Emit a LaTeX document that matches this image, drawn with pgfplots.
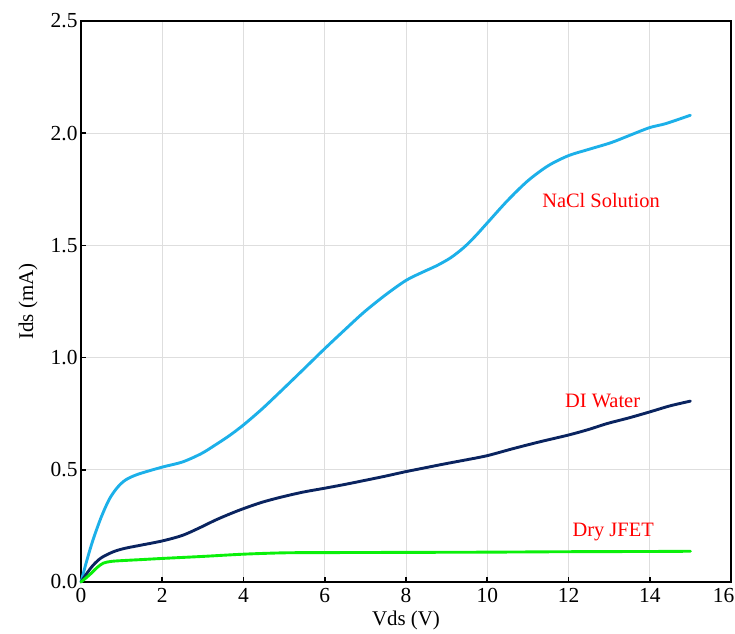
\documentclass[border=0pt]{standalone}
\usepackage{pgfplots}
\pgfplotsset{compat=1.18}
\usepackage{fontspec}
\setmainfont{Liberation Serif}
\definecolor{nacl}{RGB}{28,176,233}
\definecolor{diw}{RGB}{10,36,96}
\definecolor{dry}{RGB}{10,240,10}
\definecolor{gridc}{RGB}{222,222,222}
\begin{document}
\begin{tikzpicture}
\begin{axis}[
  scale only axis,
  width=650bp, height=561bp,
  xmin=0, xmax=16, ymin=0, ymax=2.5,
  xtick={0,2,...,16}, ytick={0,0.5,...,2.5},
  xticklabels={0,2,4,6,8,10,12,14,\makebox[0pt][c]{\hspace*{-15bp}16}},
  grid=major,
  major grid style={color=gridc, line width=0.8pt},
  axis line style={line width=1.6pt, black},
  tick align=inside,
  tick pos=left,
  major tick style={line width=1.6pt, black},
  major tick length=5bp,
  /pgf/number format/assume math mode=true,
  yticklabel style={/pgf/number format/fixed, /pgf/number format/fixed zerofill, /pgf/number format/precision=1},
  tick label style={font=\fontsize{21.5}{24}\selectfont},
  xticklabel style={yshift=-3bp},
  xlabel={Vds (V)}, ylabel={Ids (mA)},
  label style={font=\fontsize{21}{24}\selectfont},
  xlabel style={at={(axis description cs:0.5,-0.068)}, anchor=center},
  ylabel style={at={(axis description cs:-0.0815,0.5)}, anchor=center},
  clip=false,
]
\coordinate (ll) at (rel axis cs:0,0);
\coordinate (ur) at (rel axis cs:1,1);
\addplot[nacl, line width=2.9pt, smooth, line cap=round, line join=round] coordinates {
(0,0) (0.15,0.10) (0.3,0.19) (0.5,0.29) (0.7,0.37) (0.9,0.422) (1.1,0.455) (1.4,0.48) (2,0.512) (2.5,0.535) (2.96,0.572) (3.3,0.61) (3.65,0.652) (4,0.70) (4.45,0.77) (4.9,0.847) (5.45,0.943) (6,1.04) (6.5,1.125) (6.97,1.203) (7.5,1.28) (8,1.344) (8.4,1.38) (8.76,1.41) (9.1,1.445) (9.42,1.49) (9.7,1.54) (10,1.60) (10.5,1.70) (11,1.788) (11.5,1.855) (12,1.9) (12.5,1.928) (13.05,1.958) (13.5,1.99) (14,2.025) (14.4,2.043) (15,2.08)
};
\addplot[diw, line width=2.9pt, smooth, line cap=round, line join=round] coordinates {
(0,0) (0.15,0.04) (0.3,0.075) (0.5,0.108) (0.8,0.135) (1.08,0.15) (1.5,0.165) (2,0.183) (2.5,0.208) (2.96,0.245) (3.3,0.275) (3.66,0.303) (4,0.327) (4.45,0.355) (4.9,0.377) (5.45,0.40) (6,0.418) (6.5,0.435) (7.1,0.457) (7.5,0.472) (8,0.492) (8.5,0.51) (9,0.528) (9.5,0.545) (10,0.563) (10.65,0.595) (11.3,0.625) (12,0.655) (12.5,0.68) (12.95,0.706) (13.5,0.732) (14,0.758) (14.5,0.785) (15,0.806)
};
\addplot[dry, line width=2.9pt, smooth, line cap=round, line join=round] coordinates {
(0,0) (0.2,0.03) (0.4,0.065) (0.55,0.084) (0.75,0.092) (1.08,0.096) (1.5,0.1) (2,0.105) (3,0.114) (4,0.124) (5,0.13) (6,0.131) (8,0.132) (10,0.133) (12,0.135) (14,0.136) (15,0.137)
};
\node[red, font=\fontsize{20.5}{24}\selectfont] at (axis cs:12.8,1.70) {NaCl Solution};
\node[red, font=\fontsize{20.5}{24}\selectfont] at (axis cs:12.84,0.805) {DI Water};
\node[red, font=\fontsize{20.5}{24}\selectfont] at (axis cs:13.1,0.223) {Dry JFET};
\end{axis}
\path (ll) ++(-81bp,-52bp) coordinate (a);
\path (ur) ++(4bp,21bp) coordinate (b);
\pgfresetboundingbox
\path[use as bounding box] (a) rectangle (b);
\end{tikzpicture}
\end{document}
